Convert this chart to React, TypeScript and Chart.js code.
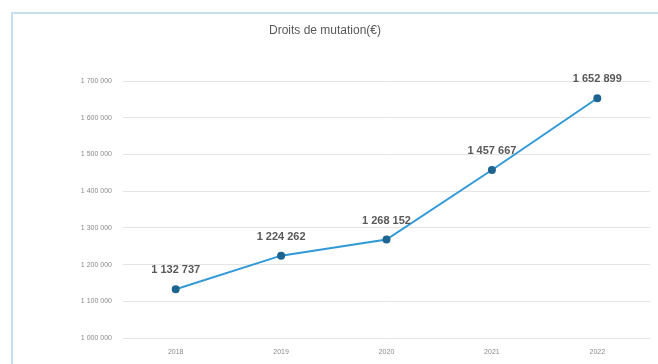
import React, { useEffect, useRef } from "react";
import { Chart, registerables } from "chart.js";

Chart.register(...registerables);

const years = ["2018", "2019", "2020", "2021", "2022"];
const droits = [1132737, 1224262, 1268152, 1457667, 1652899];
const yMin = 1000000;
const yMax = 1700000;
const yStep = 100000;

const fmt = (v: number) =>
  Math.round(v)
    .toString()
    .replace(/\B(?=(\d{3})+(?!\d))/g, " ");

// Frame around the chart and value labels above each point
const framePlugin = {
  id: "frame",
  beforeDraw(chart: any) {
    const ctx = chart.ctx;
    ctx.save();
    ctx.fillStyle = "#ffffff";
    ctx.fillRect(0, 0, chart.width, chart.height);
    ctx.strokeStyle = "#c4dfee";
    ctx.lineWidth = 2;
    ctx.strokeRect(12, 13, chart.width + 20, chart.height + 20);
    ctx.restore();
  },
};

const valueLabels = {
  id: "valueLabels",
  afterDatasetsDraw(chart: any) {
    const ctx = chart.ctx;
    const meta = chart.getDatasetMeta(0);
    ctx.save();
    ctx.font = "bold 11px 'Liberation Sans', Arial, sans-serif";
    ctx.fillStyle = "#595959";
    ctx.textAlign = "center";
    ctx.textBaseline = "middle";
    meta.data.forEach((pt: any, i: number) => {
      ctx.fillText(fmt(droits[i]), pt.x, pt.y - 19);
    });
    ctx.restore();
  },
};

export default function App() {
  const ref = useRef<HTMLCanvasElement>(null);

  useEffect(() => {
    if (!ref.current) return;
    const chart = new Chart(ref.current, {
      type: "line",
      data: {
        labels: years,
        datasets: [
          {
            label: "Droits de mutation(€)",
            data: droits,
            borderColor: "#3199d6",
            borderWidth: 2,
            pointRadius: 3,
            pointBackgroundColor: "#1e6491",
            pointBorderColor: "#1e6491",
            tension: 0,
          },
        ],
      },
      options: {
        animation: false,
        responsive: false,
        layout: { padding: { left: 0, right: 8, top: 0, bottom: 0 } },
        plugins: {
          legend: { display: false },
          tooltip: { enabled: false },
          title: {
            display: true,
            text: "Droits de mutation(€)",
            color: "#595959",
            font: { family: "'Liberation Sans', Arial, sans-serif", size: 12, weight: "normal" },
            padding: { top: 23, bottom: 43.6 },
          },
        },
        scales: {
          x: {
            offset: true,
            grid: { display: false, drawTicks: false },
            border: { display: false },
            ticks: {
              color: "#8a8a8a",
              font: { family: "'Liberation Sans', Arial, sans-serif", size: 7 },
              padding: 10,
            },
            afterFit(scale: any) {
              scale.height = 26;
            },
          },
          y: {
            min: yMin,
            max: yMax,
            grid: { color: "#e4e4e4", lineWidth: 1, drawTicks: false },
            border: { display: false },
            ticks: {
              stepSize: yStep,
              color: "#8a8a8a",
              font: { family: "'Liberation Sans', Arial, sans-serif", size: 7 },
              padding: 11,
              callback: (v: any) => fmt(Number(v)),
            },
            afterFit(scale: any) {
              scale.width = 123;
            },
          },
        },
      },
      plugins: [framePlugin, valueLabels],
    });
    return () => chart.destroy();
  }, []);

  return (
    <div style={{ position: "absolute", left: 0, top: 0, width: 658, height: 364 }}>
      <canvas ref={ref} width={658} height={364} style={{ display: "block" }} />
    </div>
  );
}
